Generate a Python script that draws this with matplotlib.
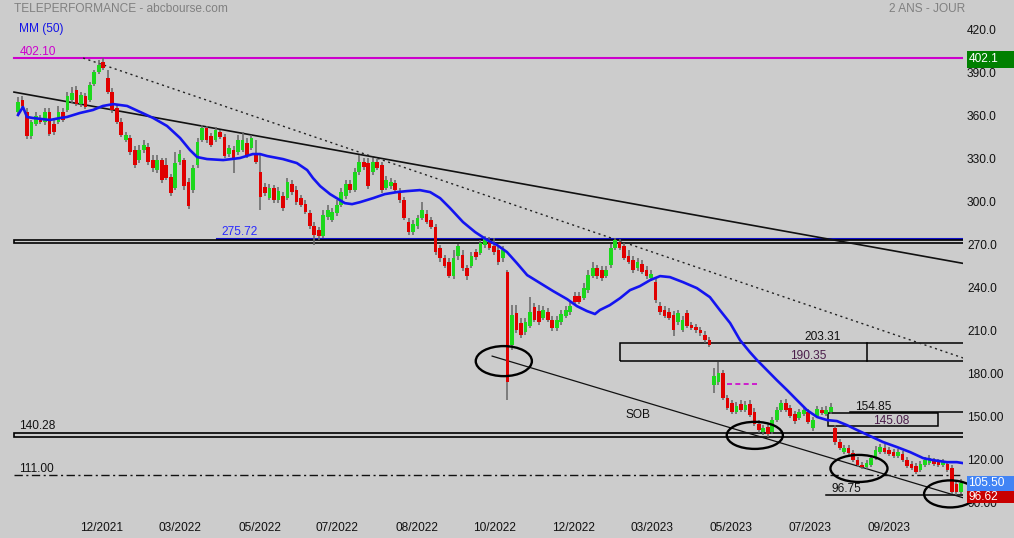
import matplotlib
matplotlib.use("Agg")
import matplotlib.pyplot as plt
from matplotlib.patches import Ellipse, Rectangle
from matplotlib.transforms import blended_transform_factory, ScaledTranslation

plt.rcParams["font.family"] = ["Liberation Sans", "DejaVu Sans"]

# daily candles (bar index on x)
opens = [
    364.6, 372.9, 364.6, 347.8, 356.2, 360.4, 357.6, 364.6, 356.2, 357.6,
    364.6, 366.0, 372.9, 379.9, 370.1, 375.7, 372.9, 384.1, 392.5, 399.5,
    388.3, 378.5, 367.4, 357.6, 345.0, 346.4, 338.0, 331.0, 338.0, 340.1,
    331.0, 324.0, 331.0, 327.5, 319.1, 311.4, 329.6, 331.0, 315.6, 310.0,
    327.5, 345.0, 353.4, 347.8, 345.0, 350.6, 347.1, 335.2, 338.0, 336.6,
    338.0, 342.9, 339.4, 335.9, 322.6, 312.1, 304.4, 311.4, 303.0, 305.8,
    304.4, 314.2, 310.0, 304.4, 300.2, 294.0, 284.9, 282.1, 277.9, 291.2,
    289.1, 294.0, 299.5, 305.8, 314.2, 310.0, 322.6, 329.6, 328.9, 322.6,
    329.6, 327.5, 311.4, 312.8, 314.9, 308.6, 303.0, 287.7, 280.7, 284.9,
    290.5, 293.3, 289.1, 284.2, 269.5, 262.5, 259.7, 249.9, 263.9, 264.6,
    255.5, 256.9, 266.7, 266.0, 271.6, 275.1, 270.9, 268.1, 262.5, 252.7,
    201.7, 224.1, 217.1, 210.8, 215.0, 228.3, 225.5, 220.6, 224.8, 219.2,
    213.6, 217.8, 222.0, 224.8, 236.0, 236.0, 234.5, 240.1, 249.9, 255.5,
    254.1, 249.9, 257.6, 269.5, 273.7, 270.9, 263.9, 261.1, 255.5, 258.3,
    254.1, 248.5, 245.7, 229.0, 226.2, 224.8, 222.7, 217.8, 212.2, 224.1,
    215.7, 214.3, 212.2, 208.7, 205.2, 173.7, 175.8, 182.1, 164.6, 161.1,
    154.9, 160.4, 156.3, 160.4, 154.9, 146.5, 140.9, 144.4, 140.9, 149.3,
    156.3, 161.1, 157.7, 153.5, 150.7, 153.5, 154.9, 143.7, 152.1, 156.3,
    153.5, 154.9, 143.7, 133.9, 126.9, 129.7, 126.2, 121.3, 117.8, 116.4,
    117.8, 122.7, 126.9, 129.7, 128.3, 126.9, 124.1, 125.5, 121.3, 118.5,
    117.1, 114.3, 117.8, 119.2, 120.6, 119.9, 117.8, 118.5, 115.7, 104.5,
    98.9,
]
highs = [
    375.0, 375.7, 367.4, 359.0, 364.6, 362.5, 367.4, 367.4, 359.0, 368.8,
    367.4, 378.5, 382.0, 382.7, 378.5, 377.8, 385.5, 393.9, 400.9, 402.1,
    393.9, 381.3, 370.1, 360.4, 350.6, 348.5, 340.8, 341.5, 345.0, 342.9,
    334.5, 334.5, 332.4, 332.4, 321.2, 336.6, 338.0, 332.4, 318.4, 327.5,
    346.4, 355.5, 354.8, 349.9, 354.1, 352.0, 349.2, 341.5, 340.8, 348.5,
    350.6, 346.4, 348.5, 345.0, 334.5, 314.9, 314.2, 313.5, 312.1, 308.7,
    318.4, 317.0, 312.8, 306.5, 303.0, 296.1, 287.7, 284.2, 296.1, 299.5,
    297.5, 303.0, 311.4, 317.0, 317.0, 325.4, 334.5, 332.4, 332.4, 332.4,
    331.7, 329.6, 319.8, 318.4, 317.0, 311.4, 305.1, 290.5, 289.1, 292.6,
    301.6, 296.1, 291.2, 286.3, 271.6, 264.6, 262.5, 268.1, 272.3, 268.1,
    257.6, 266.7, 268.8, 275.1, 277.9, 277.2, 276.5, 270.2, 270.9, 254.1,
    229.6, 229.6, 220.6, 220.6, 235.2, 231.0, 229.6, 228.9, 227.6, 222.0,
    222.0, 226.2, 228.9, 231.7, 238.7, 238.7, 245.0, 254.1, 259.7, 257.6,
    256.9, 256.9, 272.3, 276.5, 275.8, 273.0, 268.1, 263.9, 262.5, 261.1,
    256.9, 254.1, 248.5, 231.7, 228.9, 227.6, 225.5, 226.2, 222.0, 226.2,
    217.8, 216.4, 214.3, 211.5, 207.3, 185.6, 189.8, 184.2, 166.7, 163.2,
    161.8, 163.2, 162.5, 163.2, 157.7, 149.3, 145.8, 146.5, 151.4, 158.4,
    163.2, 164.0, 159.7, 155.6, 157.0, 159.1, 157.0, 151.4, 159.1, 158.4,
    159.1, 161.1, 145.8, 136.0, 131.8, 131.8, 128.3, 123.4, 119.9, 121.3,
    124.8, 131.1, 132.5, 132.5, 130.4, 129.0, 129.0, 127.6, 123.4, 120.6,
    119.2, 120.6, 123.4, 124.8, 122.7, 122.0, 122.0, 120.6, 117.8, 106.6,
    108.0,
]
lows = [
    362.5, 366.0, 345.7, 345.7, 354.8, 356.2, 355.5, 347.8, 348.5, 356.2,
    357.6, 364.6, 370.8, 368.7, 368.1, 366.7, 371.5, 382.7, 391.1, 393.9,
    377.1, 363.9, 356.2, 347.1, 343.6, 334.5, 325.4, 328.9, 335.9, 327.5,
    322.6, 321.9, 314.9, 317.0, 305.8, 310.0, 327.5, 310.0, 296.8, 307.9,
    325.4, 343.6, 342.9, 340.1, 343.6, 345.7, 332.4, 333.1, 321.9, 334.5,
    336.6, 332.4, 338.0, 328.2, 296.1, 305.8, 303.0, 300.9, 300.9, 295.4,
    303.0, 306.5, 299.5, 298.2, 293.3, 282.8, 271.6, 275.1, 276.5, 289.1,
    287.7, 291.9, 298.2, 303.7, 307.9, 308.6, 320.5, 324.0, 310.7, 320.5,
    324.0, 307.9, 310.0, 310.7, 308.6, 300.9, 289.1, 278.6, 278.6, 282.8,
    289.1, 286.3, 282.8, 264.6, 259.7, 255.5, 248.5, 247.8, 261.1, 253.4,
    247.1, 255.5, 261.1, 264.6, 269.5, 268.1, 264.6, 257.6, 259.7, 163.2,
    198.2, 210.1, 206.6, 208.7, 213.6, 217.8, 215.7, 219.2, 217.8, 211.5,
    211.5, 215.7, 220.6, 222.7, 229.6, 230.3, 233.1, 238.0, 248.5, 247.8,
    246.4, 248.5, 255.5, 268.1, 268.1, 261.1, 258.3, 252.0, 253.4, 251.3,
    247.8, 246.4, 231.0, 222.7, 220.6, 219.2, 207.9, 215.7, 210.8, 213.6,
    212.2, 210.1, 208.0, 203.1, 200.3, 168.1, 173.7, 163.2, 156.3, 153.5,
    153.5, 154.9, 154.9, 151.4, 145.1, 140.2, 138.8, 137.4, 139.5, 147.9,
    154.9, 154.9, 150.7, 146.5, 149.3, 152.1, 146.5, 141.6, 150.7, 152.8,
    152.1, 153.5, 131.8, 128.3, 125.5, 124.8, 119.9, 116.4, 115.0, 115.0,
    116.4, 121.3, 125.5, 125.5, 124.1, 122.7, 122.7, 119.9, 115.7, 114.3,
    111.5, 112.9, 116.4, 117.8, 117.1, 116.4, 116.4, 112.9, 97.5, 96.62,
    97.5,
]
closes = [
    371.5, 368.7, 347.8, 357.6, 361.8, 357.6, 364.6, 349.2, 350.6, 364.6,
    359.0, 375.7, 377.8, 370.1, 376.4, 368.1, 383.4, 392.5, 397.4, 395.3,
    378.5, 366.0, 357.6, 348.5, 348.5, 336.6, 327.5, 338.0, 341.5, 329.6,
    325.4, 331.0, 317.0, 318.4, 308.0, 328.9, 335.2, 312.8, 298.9, 325.4,
    343.6, 353.4, 345.0, 341.5, 352.0, 347.1, 333.8, 339.4, 332.4, 345.0,
    345.0, 333.8, 346.4, 329.6, 305.1, 307.9, 311.4, 303.0, 309.3, 297.5,
    315.6, 308.6, 301.6, 299.5, 294.7, 284.9, 278.6, 277.9, 292.6, 296.1,
    294.7, 299.5, 308.6, 314.2, 310.0, 322.6, 329.6, 326.1, 312.8, 329.6,
    325.4, 310.0, 317.0, 315.6, 310.0, 303.0, 290.5, 280.7, 286.3, 290.5,
    296.1, 287.7, 284.2, 266.7, 262.5, 256.9, 249.9, 262.5, 271.2, 255.5,
    249.9, 263.9, 263.2, 273.0, 276.5, 269.5, 266.7, 259.7, 268.1, 175.8,
    222.7, 212.2, 208.7, 217.8, 224.8, 219.2, 217.8, 226.2, 219.2, 213.6,
    219.2, 223.4, 226.2, 228.9, 231.7, 231.7, 241.5, 250.6, 255.5, 249.9,
    248.5, 254.1, 269.5, 275.1, 269.5, 262.5, 259.7, 254.1, 259.7, 252.7,
    249.9, 251.3, 233.1, 224.8, 222.0, 220.6, 212.2, 224.1, 219.2, 215.0,
    213.6, 212.2, 210.1, 205.2, 201.7, 180.0, 182.1, 164.6, 157.7, 154.9,
    159.1, 156.3, 159.7, 152.8, 146.5, 142.3, 143.7, 139.5, 149.3, 156.3,
    161.1, 156.3, 152.1, 148.6, 154.9, 156.3, 147.9, 149.3, 156.9, 154.2,
    156.3, 158.4, 133.9, 129.7, 129.7, 126.2, 121.3, 117.8, 116.4, 119.2,
    122.7, 128.3, 130.4, 126.9, 125.5, 124.1, 126.9, 121.3, 117.1, 115.7,
    112.9, 118.5, 121.3, 122.7, 118.5, 117.8, 119.9, 114.3, 98.9, 98.9,
    105.5,
]

# MM (50) read as points (bar index, value)
ma_x = [0, 1.1, 2.0, 3.3, 7.1, 9.4, 10.9, 13.8, 16.7, 18.9, 21.2, 24.3, 27.2,
        30.1, 33.2, 36.1, 38.3, 39.9, 42.1, 45.7, 49.4, 52.3, 53.9, 55.5,
        59.0, 62.1, 64.4, 65.7, 67.3, 69.5, 71.7, 72.8, 74.4, 76.2, 79.1,
        81.7, 84.4, 86.6, 89.5, 91.8, 94.0, 96.2, 99.1, 101.8, 104.5, 106.7,
        108.9, 111.1, 113.4, 116.3, 119.2, 122.3, 124.5, 126.7, 128.5, 129.6,
        131.8, 134.1, 136.3, 138.5, 140.8, 143.0, 145.2, 148.1, 151.2, 154.1,
        156.3, 158.6, 160.8, 163.0, 164.6, 166.8, 169.0, 171.3, 173.5, 175.7,
        178.0, 180.2, 182.4, 184.6, 186.9, 189.8, 192.7, 195.8, 198.7, 201.6,
        203.8, 206.9, 209.1, 210.5]
ma_v = [362.5, 368.1, 361.1, 360.4, 359.0, 360.4, 361.1, 363.9, 366.0, 368.8,
        370.1, 368.8, 364.6, 360.4, 354.8, 346.4, 338.0, 333.1, 331.7, 331.0,
        332.4, 335.2, 335.2, 333.8, 331.7, 328.9, 324.0, 318.4, 312.8, 307.2,
        303.0, 300.9, 300.2, 301.6, 304.4, 307.2, 308.6, 309.3, 310.0, 308.6,
        304.4, 297.5, 287.7, 280.7, 275.1, 271.6, 266.7, 259.0, 250.6, 245.0,
        239.4, 233.8, 228.9, 225.5, 223.4, 226.2, 229.6, 234.5, 240.1, 242.9,
        247.1, 249.9, 249.2, 245.7, 241.5, 235.2, 226.2, 217.1, 205.2, 196.8,
        191.2, 184.2, 177.2, 170.2, 163.2, 156.3, 151.4, 149.3, 148.6, 145.8,
        142.3, 138.1, 133.9, 130.4, 126.9, 122.7, 121.3, 119.9, 119.9, 119.2]

x_tick_pos = [18.6, 36.1, 53.8, 71.0, 88.9, 106.2, 123.8, 141.3, 158.7, 176.4, 194.0]
x_tick_labels = ["12/2021", "03/2022", "05/2022", "07/2022", "08/2022", "10/2022",
                 "12/2022", "03/2023", "05/2023", "07/2023", "09/2023"]
y_tick_pos = [420, 390, 360, 330, 300, 270, 240, 210, 180, 150, 120, 90]
y_tick_labels = ["420.0", "390.0", "360.0", "330.0", "300.0", "270.0", "240.0",
                 "210.0", "180.00", "150.00", "120.00", "90.00"]

# drawn analysis objects: (x0, y0, x1, y1) in bar index / price
res_line = (-0.9, 378.5, 210.5, 258.8)
dotted_line = (14.5, 402.3, 210.5, 192.7)
support_line = (105.6, 194.0, 210.5, 95.0)

BG = "#cccccc"
GREEN = "#1cd81c"
RED = "#e00000"
FS = 8.6

fig = plt.figure(figsize=(10.14, 5.38), dpi=100, facecolor=BG)
ax = fig.add_axes([0, 26 / 538, 963 / 1014, 512 / 538], facecolor=BG)
ax.set_xlim(-4.01, 210.47)
ax.set_ylim(85.06, 442.85)
for s in ax.spines.values():
    s.set_visible(False)

# horizontal levels
ax.axhline(402.1, xmin=0.0145, color="#cc00cc", lw=1.5, zorder=2)
ax.text(0.3, 406.8, "402.10", color="#cc00cc", fontsize=FS, va="center")
ax.plot([44.3, 215], [275.72, 275.72], color="#1010c8", lw=1.5, zorder=2)
ax.text(45.4, 280.4, "275.72", color="#2a2aff", fontsize=FS, va="center")
ax.add_patch(Rectangle((-0.9, 272.9), 220, 2.0, fill=False, ec="black", lw=1.2, zorder=2))
ax.add_patch(Rectangle((-0.9, 137.3), 220, 2.98, fill=False, ec="black", lw=1.2, zorder=2))
ax.text(0.3, 144.9, "140.28", color="#111111", fontsize=FS, va="center")
ax.plot([-0.9, 215], [111.0, 111.0], color="#111111", lw=1,
        linestyle=(0, (6, 2.5, 1.5, 2.5)), zorder=2)
ax.text(0.3, 115.4, "111.00", color="#111111", fontsize=FS, va="center")

# boxes on the right
ax.add_patch(Rectangle((134.1, 190.35), 90, 12.96, fill=False, ec="black", lw=1.1, zorder=2))
ax.plot([189.2, 189.2], [190.35, 203.31], color="black", lw=1.1, zorder=2)
ax.text(179.1, 207.4, "203.31", color="#111111", fontsize=FS, ha="center", va="center")
ax.text(176.0, 194.3, "190.35", color="#4a1d4a", fontsize=FS, ha="center", va="center")
ax.add_patch(Rectangle((180.4, 145.08), 24.5, 8.9, fill=False, ec="black", lw=1.1, zorder=2))
ax.plot([185.3, 215], [154.85, 154.85], color="black", lw=1.1, zorder=2)
ax.text(190.4, 158.5, "154.85", color="#111111", fontsize=FS, ha="center", va="center")
ax.text(194.4, 148.7, "145.08", color="#4a1d4a", fontsize=FS, ha="center", va="center")
ax.plot([180.0, 215], [96.75, 96.75], color="black", lw=1.1, zorder=2)
ax.text(184.4, 101.0, "96.75", color="#111111", fontsize=FS, ha="center", va="center")
ax.plot([157.9, 164.8], [174.5, 174.5], color="#cc00cc", lw=1.2,
        linestyle=(0, (3, 2)), zorder=2)
ax.text(138.0, 153.0, "SOB", color="#111111", fontsize=FS, ha="center", va="center")

# trend lines
ax.plot(res_line[::2], res_line[1::2], color="#111111", lw=1.2, zorder=2)
ax.plot(dotted_line[::2], dotted_line[1::2], color="#222222", lw=1.0,
        linestyle=(0, (1.5, 2.5)), zorder=2)
ax.plot(support_line[::2], support_line[1::2], color="#111111", lw=0.9, zorder=2)

# candles
idx = list(range(len(closes)))
ax.vlines(idx, lows, highs, color="#666666", lw=1.1, zorder=3)
bottoms = [min(o, c) for o, c in zip(opens, closes)]
heights = [max(abs(c - o), 1.0) for o, c in zip(opens, closes)]
colors = [GREEN if c >= o else RED for o, c in zip(opens, closes)]
ax.bar(idx, heights, bottom=bottoms, width=0.82, color=colors, lw=0, zorder=4)

# moving average
ax.plot(ma_x, ma_v, color="#1414f0", lw=1.9, zorder=5)

# ellipses
for cx, cy, w, h in [(108.2, 190.5, 12.5, 21.0), (164.1, 138.6, 12.5, 18.9),
                     (187.3, 115.5, 12.7, 18.9), (207.6, 97.7, 11.6, 18.9)]:
    ax.add_patch(Ellipse((cx, cy), w, h, fill=False, ec="black", lw=1.7,
                         zorder=6, clip_on=False))

# axes / ticks
ax.yaxis.tick_right()
ax.set_yticks(y_tick_pos)
ax.set_yticklabels(y_tick_labels)
ax.set_xticks(x_tick_pos)
ax.set_xticklabels(x_tick_labels)
ax.tick_params(axis="y", length=0, pad=2.9, labelsize=FS, labelcolor="#111111")
ax.tick_params(axis="x", length=0, pad=7, labelsize=FS, labelcolor="#111111")
shift = ScaledTranslation(0, 2.7 / 100, fig.dpi_scale_trans)
for lab in ax.get_yticklabels():
    lab.set_transform(lab.get_transform() + shift)

# price tags on the right
tr = blended_transform_factory(ax.transAxes, ax.transData)
for y0, y1, yt, txt, col in [(395.3, 407.2, 401.3, "402.1", "#008000"),
                             (99.7, 110.2, 105.0, "105.50", "#4284f5"),
                             (91.1, 99.7, 95.4, "96.62", "#c80000")]:
    ax.add_patch(Rectangle((1.0042, y0), 0.05, y1 - y0, transform=tr,
                           color=col, lw=0, clip_on=False, zorder=7))
    ax.text(1.0055, yt, txt, transform=tr, color="white", fontsize=FS,
            va="center", ha="left", zorder=8, clip_on=False)

fig.text(14 / 1014, 1 - 9 / 538, "TELEPERFORMANCE - abcbourse.com",
         color="#808080", fontsize=FS, va="center")
fig.text(19 / 1014, 1 - 29.3 / 538, "MM (50)", color="#1414e6",
         fontsize=FS, va="center")
fig.text(965 / 1014, 1 - 8.7 / 538, "2 ANS - JOUR", color="#808080",
         fontsize=FS, va="center", ha="right")

fig.savefig("out.png", dpi=100, facecolor=BG)
